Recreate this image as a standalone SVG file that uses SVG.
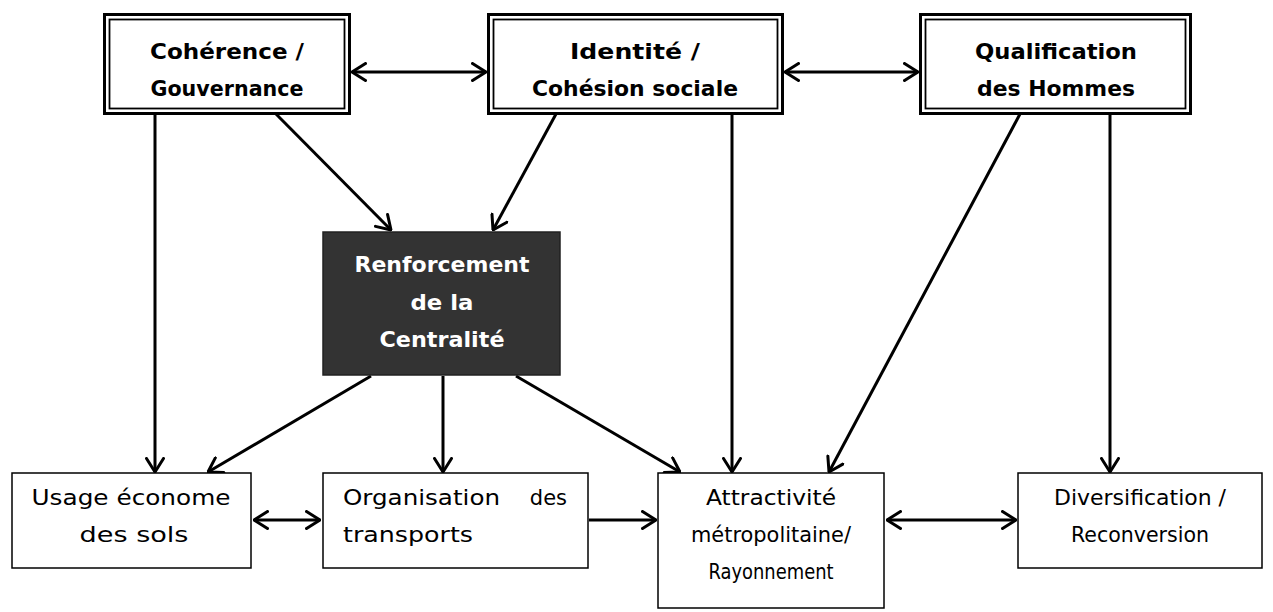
<svg xmlns="http://www.w3.org/2000/svg" width="1273" height="612" viewBox="0 0 1273 612">
<defs>
<marker id="ah" viewBox="0 0 16 20" refX="15" refY="10" markerWidth="16" markerHeight="20" markerUnits="userSpaceOnUse" orient="auto-start-reverse">
<path d="M1.5,1.5 L15,10 L1.5,18.5" fill="none" stroke="#000" stroke-width="3" stroke-linecap="round" stroke-linejoin="round"/>
</marker>
<style>
.outer{fill:#fff;stroke:#000;stroke-width:3}
.inner{fill:none;stroke:#000;stroke-width:1.8}
.box{fill:#fff;stroke:#000;stroke-width:1.5}
.dark{fill:#333;stroke:#222;stroke-width:1.5}
.tb{font-family:"DejaVu Sans","Liberation Sans",sans-serif;font-weight:bold;font-size:21px;fill:#000;text-anchor:middle}
.tw{font-family:"DejaVu Sans","Liberation Sans",sans-serif;font-weight:bold;font-size:21px;fill:#fff;text-anchor:middle}
.tn{font-family:"DejaVu Sans","Liberation Sans",sans-serif;font-size:21px;fill:#000;text-anchor:middle}
.c{fill:none;stroke:#000;stroke-width:3}
.c1{marker-end:url(#ah)}
.c2{marker-start:url(#ah);marker-end:url(#ah)}
</style>
</defs>
<g id="connectors">
<line class="c c2" x1="352" y1="72" x2="486" y2="72"/>
<line class="c c2" x1="785" y1="72" x2="918" y2="72"/>
<line class="c c1" x1="155" y1="114" x2="155" y2="472"/>
<line class="c c1" x1="276" y1="114" x2="391" y2="230"/>
<line class="c c1" x1="556" y1="114" x2="493" y2="230"/>
<line class="c c1" x1="732" y1="114" x2="732" y2="472"/>
<line class="c c1" x1="1020" y1="114" x2="829" y2="472"/>
<line class="c c1" x1="1110" y1="114" x2="1110" y2="472"/>
<line class="c c1" x1="371" y1="376" x2="208" y2="472"/>
<line class="c c1" x1="443" y1="376" x2="443" y2="472"/>
<line class="c c1" x1="516" y1="376" x2="680" y2="472"/>
<line class="c c2" x1="254" y1="520" x2="320" y2="520"/>
<line class="c c1" x1="589" y1="520" x2="656" y2="520"/>
<line class="c c2" x1="887" y1="520" x2="1016" y2="520"/>
</g>
<g id="coherence">
<rect class="outer" x="104.5" y="14.5" width="245" height="99"/>
<rect class="inner" x="109.5" y="19.5" width="235" height="89"/>
<text class="tb" x="227" y="59" textLength="154" lengthAdjust="spacingAndGlyphs">Cohérence /</text>
<text class="tb" x="227" y="96" textLength="153" lengthAdjust="spacingAndGlyphs">Gouvernance</text>
</g>
<g id="identite">
<rect class="outer" x="488.5" y="14.5" width="294" height="99"/>
<rect class="inner" x="493.5" y="19.5" width="284" height="89"/>
<text class="tb" x="635" y="59" textLength="130" lengthAdjust="spacingAndGlyphs">Identité /</text>
<text class="tb" x="635" y="96" textLength="206" lengthAdjust="spacingAndGlyphs">Cohésion sociale</text>
</g>
<g id="qualification">
<rect class="outer" x="920.5" y="14.5" width="270" height="99"/>
<rect class="inner" x="925.5" y="19.5" width="260" height="89"/>
<text class="tb" x="1056" y="59" textLength="162" lengthAdjust="spacingAndGlyphs">Qualification</text>
<text class="tb" x="1056" y="96" textLength="158" lengthAdjust="spacingAndGlyphs">des Hommes</text>
</g>
<g id="centralite">
<rect class="dark" x="323" y="232" width="237" height="143"/>
<text class="tw" x="442" y="272" textLength="175" lengthAdjust="spacingAndGlyphs">Renforcement</text>
<text class="tw" x="442" y="310" textLength="63" lengthAdjust="spacingAndGlyphs">de la</text>
<text class="tw" x="442" y="347" textLength="125" lengthAdjust="spacingAndGlyphs">Centralité</text>
</g>
<g id="usage">
<rect class="box" x="12" y="473" width="239" height="95"/>
<text class="tn" x="131" y="505" textLength="199" lengthAdjust="spacingAndGlyphs">Usage économe</text>
<text class="tn" x="134" y="542" textLength="109" lengthAdjust="spacingAndGlyphs">des sols</text>
</g>
<g id="organisation">
<rect class="box" x="323" y="473" width="265" height="95"/>
<text class="tn" x="343" y="505" style="text-anchor:start" textLength="157" lengthAdjust="spacingAndGlyphs">Organisation</text>
<text class="tn" x="567" y="505" style="text-anchor:end">des</text>
<text class="tn" x="343" y="542" style="text-anchor:start" textLength="130" lengthAdjust="spacingAndGlyphs">transports</text>
</g>
<g id="attractivite">
<rect class="box" x="658" y="473" width="226" height="135"/>
<text class="tn" x="771" y="505" textLength="130" lengthAdjust="spacingAndGlyphs">Attractivité</text>
<text class="tn" x="771" y="542" textLength="160" lengthAdjust="spacingAndGlyphs">métropolitaine/</text>
<text class="tn" x="771" y="579" textLength="125" lengthAdjust="spacingAndGlyphs">Rayonnement</text>
</g>
<g id="diversification">
<rect class="box" x="1018" y="473" width="244" height="95"/>
<text class="tn" x="1140" y="505" textLength="172" lengthAdjust="spacingAndGlyphs">Diversification /</text>
<text class="tn" x="1140" y="542" textLength="138" lengthAdjust="spacingAndGlyphs">Reconversion</text>
</g>
</svg>
